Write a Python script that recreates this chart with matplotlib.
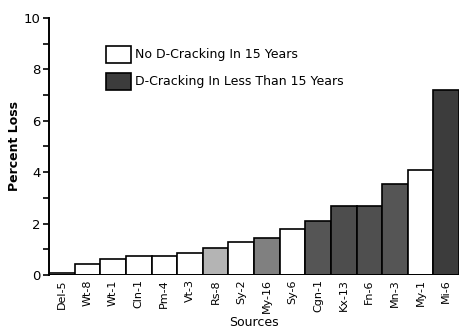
import matplotlib.pyplot as plt
from matplotlib.patches import Patch

# data
sources = ['Del-5', 'Wt-8', 'Wt-1', 'Cln-1', 'Pm-4', 'Vt-3', 'Rs-8', 'Sy-2',
           'My-16', 'Sy-6', 'Cgn-1', 'Kx-13', 'Fn-6', 'Mn-3', 'My-1', 'Mi-6']
loss = [0.07, 0.43, 0.62, 0.74, 0.74, 0.86, 1.04, 1.27,
        1.45, 1.78, 2.09, 2.67, 2.67, 3.53, 4.1, 7.2]
shades = ['white', 'white', 'white', 'white', 'white', 'white', '#b4b4b4', 'white',
          '#808080', 'white', '#555555', '#4d4d4d', '#4f4f4f', '#555555', 'white', '#3c3c3c']

plt.rcParams['font.family'] = 'DejaVu Sans'
fig = plt.figure(figsize=(4.59, 3.32), dpi=100)
ax = fig.add_axes([0.1068, 0.1717, 0.8932, 0.7741])

ax.bar(range(len(sources)), loss, width=1.0, color=shades,
       edgecolor='black', linewidth=1.2)

ax.set_xlim(-0.5, len(sources) - 0.5)
ax.set_ylim(0, 10)
ax.set_yticks([0, 2, 4, 6, 8, 10])
ax.set_yticks([1, 3, 5, 7, 9], minor=True)
ax.tick_params(axis='y', which='both', direction='out', length=4, width=1.2,
               labelsize=9.5, pad=2)
ax.set_xticks(range(len(sources)))
ax.set_xticklabels(sources, rotation=90, fontsize=8)
ax.tick_params(axis='x', length=0, pad=3)

for side in ['top', 'right', 'bottom']:
    ax.spines[side].set_visible(False)
ax.spines['left'].set_linewidth(1.4)
ax.axhline(0, color='black', linewidth=1.4)

ax.set_ylabel('Percent Loss', fontsize=9, fontweight='bold', labelpad=2)
ax.set_xlabel('Sources', fontsize=9, labelpad=2)

handles = [Patch(facecolor='white', edgecolor='black', linewidth=1.2),
           Patch(facecolor='#3c3c3c', edgecolor='black', linewidth=1.2)]
ax.legend(handles, ['No D-Cracking In 15 Years', 'D-Cracking In Less Than 15 Years'],
          loc='upper left', bbox_to_anchor=(0.112, 0.935), frameon=False,
          fontsize=9, handlelength=2.0, handleheight=1.7, handletextpad=0.3,
          labelspacing=0.8)

plt.savefig('out.png', dpi=100)
